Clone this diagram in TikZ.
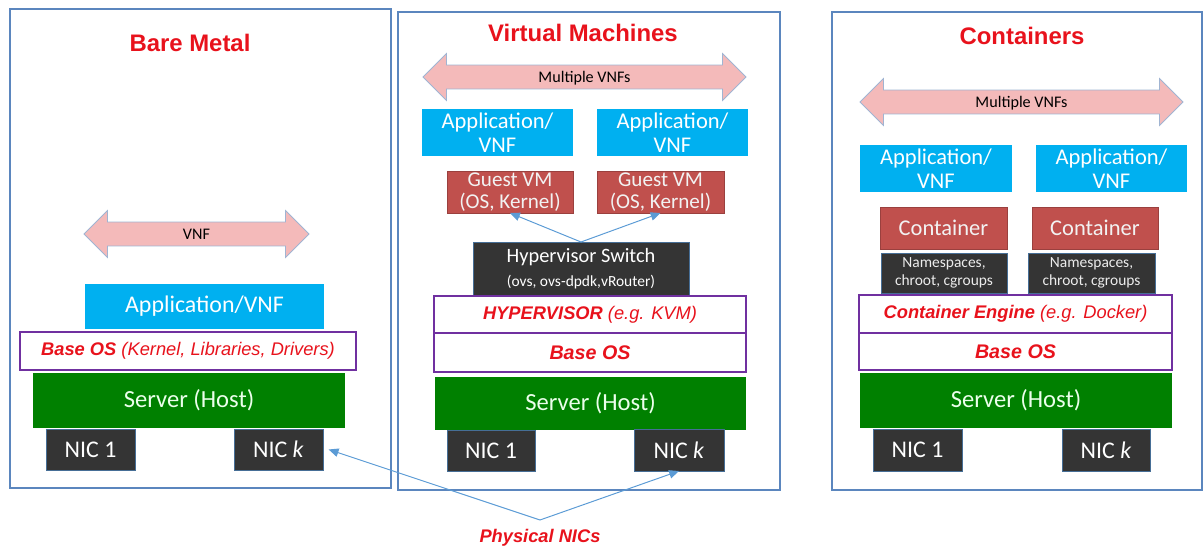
\documentclass[tikz,border=0pt]{standalone}
\usepackage{fontspec}
\setmainfont{Carlito}
\newfontfamily\arialfont{Liberation Sans}
\usepackage{tikz}
\usetikzlibrary{shapes,arrows,arrows.meta,positioning,calc}
\usepackage{xcolor}

\definecolor{framecol}{RGB}{91,134,190}
\definecolor{appblue}{RGB}{0,176,240}
\definecolor{vmred}{RGB}{192,80,77}
\definecolor{servergreen}{RGB}{0,128,0}
\definecolor{nicdark}{RGB}{52,52,52}
\definecolor{nicedge}{RGB}{70,110,150}
\definecolor{oslinecol}{RGB}{112,48,160}
\definecolor{titlered}{RGB}{232,18,28}
\definecolor{arrowpink}{RGB}{244,186,186}
\definecolor{arrowedge}{RGB}{160,180,210}
\definecolor{linkblue}{RGB}{91,155,213}

\begin{document}
\begin{tikzpicture}[x=0.025cm, y=-0.025cm,
        boxsize/.style 2 args={minimum width=#1*0.025cm, minimum height=#2*0.025cm},
        arrowlen/.style={minimum height=#1*0.025cm},
        layer/.style={rectangle, inner sep=0pt, outer sep=0pt, align=center},
        panel/.style={draw=framecol, line width=1pt},
        title/.style={text=titlered, font=\arialfont\bfseries\fontsize{17}{20}\selectfont},
        multi/.style={double arrow, fill=arrowpink, draw=arrowedge, line width=0.6pt,
            minimum width=46*0.025cm, double arrow head extend=11.5*0.025cm,
            double arrow head indent=0pt, inner xsep=0pt, inner ysep=4.2pt,
            text height=8pt, text depth=0pt, font=\fontsize{11.5}{13}\selectfont},
        appbox/.style={layer, fill=appblue, text=white, font=\fontsize{16}{17}\selectfont},
        guest/.style={layer, fill=vmred, draw=vmred!80!black, line width=0.4pt, text=white!90!gray,
            font=\fontsize{15}{16}\selectfont},
        nic/.style={layer, fill=nicdark, draw=nicedge, line width=0.5pt, text=white,
            font=\fontsize{17}{20}\selectfont},
        nsbox/.style={layer, fill=nicdark, draw=nicedge, line width=0.5pt, text=white!85!gray,
            font=\fontsize{11}{12.5}\selectfont},
        server/.style={layer, fill=servergreen, text=white!92!green, font=\fontsize{17.5}{20}\selectfont},
        oslayer/.style={layer, fill=white, draw=oslinecol, line width=1pt, text=titlered,
            font=\arialfont\itshape\fontsize{13}{15}\selectfont},
        link/.style={draw=linkblue, line width=0.7pt, -{Triangle[length=7pt,width=6pt]}},
        physlabel/.style={text=titlered, font=\arialfont\bfseries\itshape\fontsize{13}{15}\selectfont}
    ]
        \useasboundingbox (0,0) rectangle (1204,550);

        % Bare metal
        \draw[panel] (10,9) rectangle (391,488);
        \node[title] (bmtitle) at (190,43) {Bare Metal};
        \node[multi, arrowlen=225] (bmvnf) at (196.5,234) {VNF};
        \node[appbox, boxsize={239}{45}, font=\fontsize{17}{20}\selectfont] (bmapp) at (204.5,306.5) {Application/VNF};
        \node[oslayer, boxsize={336}{38}] (bmos) at (188,351) {\textbf{Base OS} (Kernel, Libraries, Drivers)};
        \node[server, boxsize={312}{55}] (bmserver) at (189,400.5) {Server (Host)};
        \node[nic, boxsize={89}{41}] (bmnic1) at (90.5,449.5) {NIC 1};
        \node[nic, boxsize={89}{41}] (bmnick) at (278.5,449.5) {NIC \textit{k}};

        % Virtual machines
        \draw[panel] (398,12) rectangle (780,490);
        \node[title] (vmtitle) at (583,33) {Virtual Machines};
        \node[multi, arrowlen=323] (vmvnfs) at (584.5,77) {Multiple VNFs};
        \node[appbox, boxsize={151}{47}] (vmapp1) at (497.5,132.5) {Application/\\VNF};
        \node[appbox, boxsize={151}{47}] (vmapp2) at (672.5,132.5) {Application/\\VNF};
        \node[guest, boxsize={126}{42}] (vm1) at (510,192) {Guest VM\\(OS, Kernel)};
        \node[guest, boxsize={127}{42}] (vm2) at (660.5,192) {Guest VM\\(OS, Kernel)};
        \node[nic, boxsize={216}{53}, font=\fontsize{14.5}{17}\selectfont] (hvswitch) at (581,268.5)
            {Hypervisor Switch\\{\fontsize{11}{13}\selectfont (ovs, ovs-dpdk,vRouter)}};
        \node[oslayer, boxsize={312}{37}] (hyper) at (590,314.5) {\textbf{HYPERVISOR} (e.g. KVM)};
        \node[oslayer, boxsize={312}{39}, font=\arialfont\itshape\fontsize{14}{16}\selectfont] (vmos) at (590,352.5) {\textbf{Base OS}};
        \node[server, boxsize={311}{53}] (vmserver) at (590.5,403.5) {Server (Host)};
        \node[nic, boxsize={88}{41}] (vmnic1) at (491,450.5) {NIC 1};
        \node[nic, boxsize={90}{42}] (vmnick) at (679,450) {NIC \textit{k}};

        \draw[link] (hvswitch.north) -- (vm1.south);
        \draw[link] (hvswitch.north) -- (vm2.south);

        % Containers
        \draw[panel] (832,12) rectangle (1202,490);
        \node[title] (cttitle) at (1022,36) {Containers};
        \node[multi, arrowlen=323] (ctvnfs) at (1021.5,102) {Multiple VNFs};
        \node[appbox, boxsize={152}{47}] (ctapp1) at (936,168.5) {Application/\\VNF};
        \node[appbox, boxsize={151}{47}] (ctapp2) at (1111.5,168.5) {Application/\\VNF};
        \node[guest, boxsize={127}{42}, font=\fontsize{16}{18}\selectfont] (ct1) at (943.5,228) {Container};
        \node[guest, boxsize={126}{42}, font=\fontsize{16}{18}\selectfont] (ct2) at (1095,228) {Container};
        \node[nsbox, boxsize={126}{40}] (ns1) at (944,273) {Namespaces,\\chroot, cgroups};
        \node[nsbox, boxsize={127}{40}] (ns2) at (1091.5,273) {Namespaces,\\chroot, cgroups};
        \node[oslayer, boxsize={313}{38}] (engine) at (1015.5,314) {\textbf{Container Engine} (e.g. Docker)};
        \node[oslayer, boxsize={313}{37}, font=\arialfont\itshape\fontsize{14}{16}\selectfont] (ctos) at (1015.5,351.5) {\textbf{Base OS}};
        \node[server, boxsize={312}{55}] (ctserver) at (1016,400.5) {Server (Host)};
        \node[nic, boxsize={89}{42}] (ctnic1) at (917.5,450) {NIC 1};
        \node[nic, boxsize={88}{42}] (ctnick) at (1106,450) {NIC \textit{k}};

        % Physical NICs
        \node[physlabel] (phys) at (540,538) {Physical NICs};
        \coordinate (nicjoin) at (540,520);
        \draw[link] (nicjoin) -- ([xshift=4pt]bmnick.east);
        \draw[link] (nicjoin) -- (vmnick.south);
    \end{tikzpicture}
\end{document}
